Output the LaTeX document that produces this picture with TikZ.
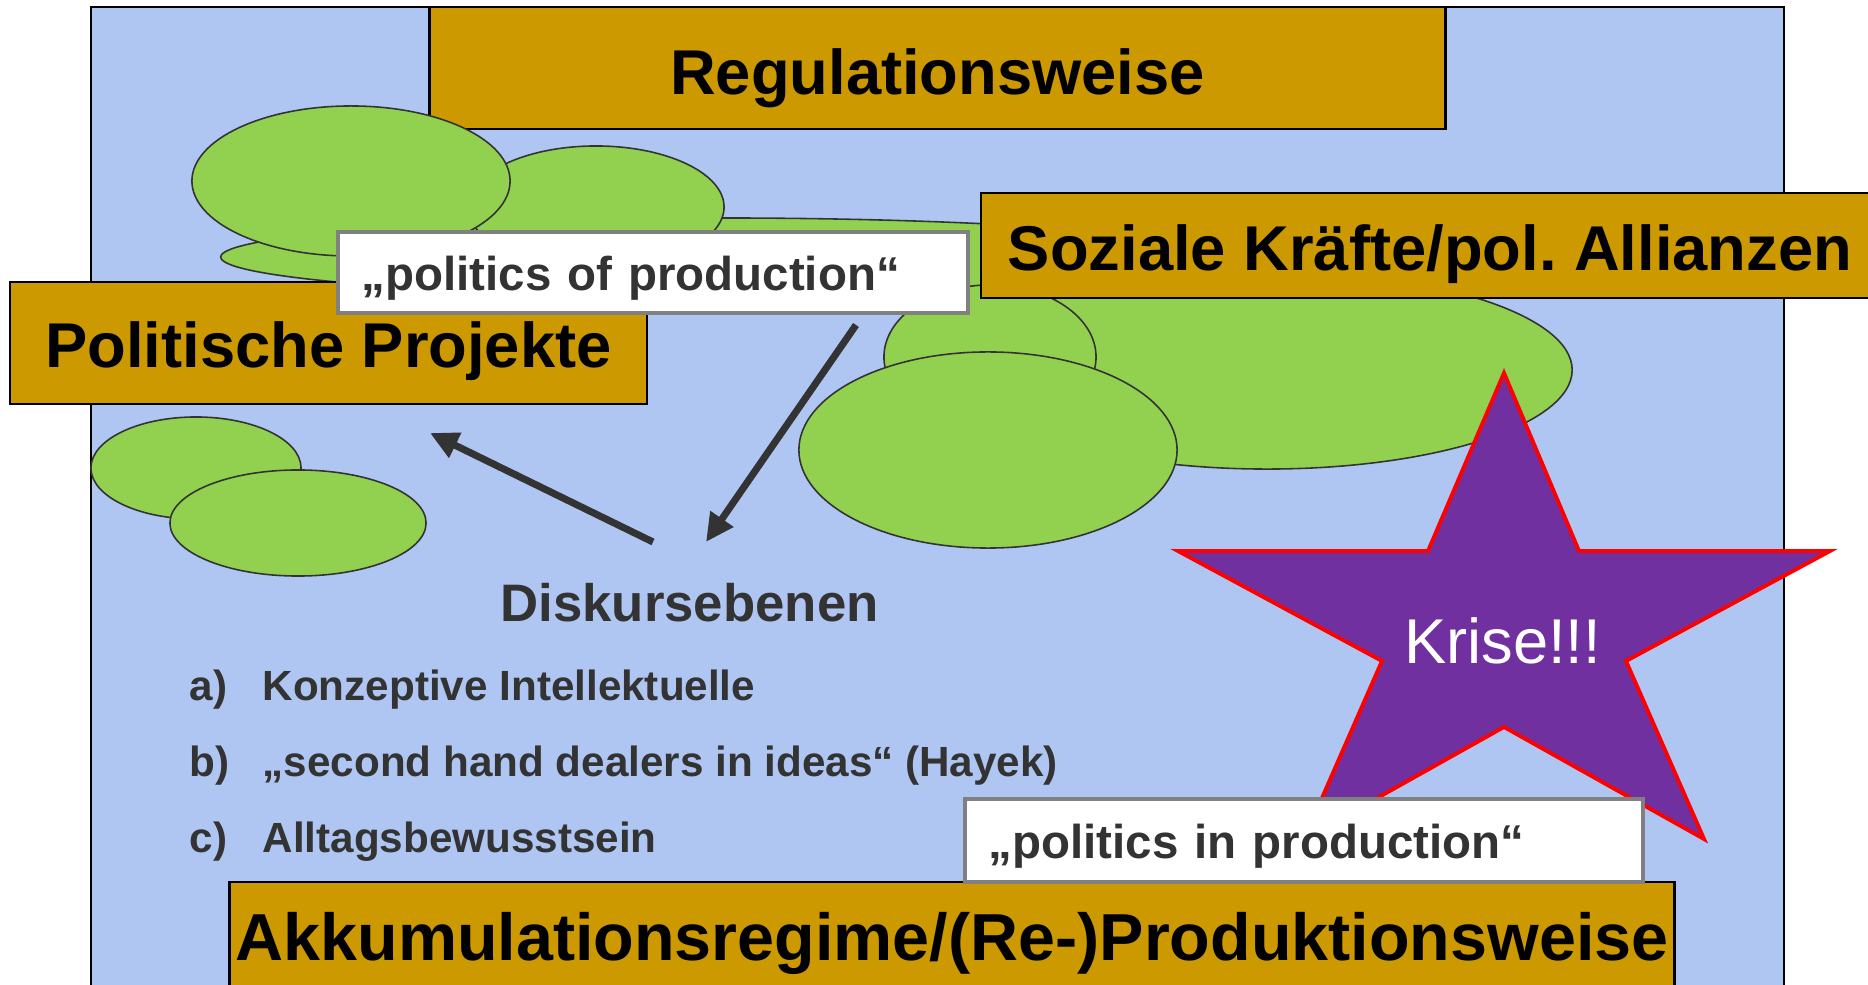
\documentclass[tikz,border=0pt]{standalone}
\usepackage{fontspec}
\setmainfont{Liberation Sans}
\usepackage{xcolor}
\usetikzlibrary{shapes.geometric,arrows.meta}
\frenchspacing

\definecolor{bgblue}{HTML}{AFC6F3}
\definecolor{leaf}{HTML}{92D050}
\definecolor{gold}{HTML}{CC9900}
\definecolor{ink}{HTML}{333333}
\definecolor{krise}{HTML}{7030A0}
\definecolor{rim}{HTML}{808080}

\begin{document}
\begin{tikzpicture}[x=0.01cm,y=-0.01cm]
	\tikzstyle{blob}=[ellipse,draw=ink,fill=leaf,line width=0.45pt,inner sep=0pt]
	\tikzstyle{tier}=[draw=black,fill=gold,line width=0.7pt,font=\fontsize{18pt}{22pt}\selectfont\bfseries,text depth=0pt]
	\tikzstyle{quotebox}=[draw=rim,fill=white,line width=1.3pt,text=ink,font=\fontsize{13.5pt}{16pt}\selectfont\bfseries,align=left,inner xsep=0.24cm,text height=10pt,text depth=0pt]
	\tikzstyle{value}=[text=ink,font=\fontsize{12pt}{14pt}\selectfont\bfseries,anchor=base west,inner sep=0pt]
	\tikzset{edge/.style = {-{Triangle[length=8pt,width=7.5pt]},line width=2pt,draw=ink}}

	\clip (0,0) rectangle (1868,985);
	\draw[fill=bgblue,line width=0.6pt] (91,7) rectangle (1784,1010);

	\node[tier,minimum width=10.15cm,minimum height=1.22cm,text height=14.8pt] (reg) at (937.5,68) {Regulationsweise};

	\node[blob,minimum width=10cm,minimum height=0.78cm] (flat) at (721,257) {};
	\node[blob,minimum width=2.56cm,minimum height=1.22cm] (e2) at (596,207) {};
	\node[blob,minimum width=3.18cm,minimum height=1.5cm] (e1) at (351,181) {};
	\node[blob,minimum width=6.1cm,minimum height=1.98cm] (e6) at (1267,370) {};
	\node[blob,minimum width=2.12cm,minimum height=1.44cm] (e4) at (990,357) {};
	\node[blob,minimum width=3.78cm,minimum height=1.96cm] (e5) at (988,450) {};
	\node[blob,minimum width=2.1cm,minimum height=1.02cm] (ea) at (196,468) {};
	\node[blob,minimum width=2.56cm,minimum height=1.06cm] (eb) at (298,523) {};

	\node[tier,minimum width=8.98cm,minimum height=1.05cm,text height=14pt] (soz) at (1430,245.5) {Soziale Kräfte/pol. Allianzen};
	\node[tier,minimum width=6.37cm,minimum height=1.22cm,text height=13.7pt] (pol) at (328.5,343) {Politische Projekte};
	\node[quotebox,minimum width=6.3cm,minimum height=0.81cm,text width=5.82cm] (pop) at (653,272.5) {„politics of production“};

	\coordinate (from disk) at (653,542);
	\coordinate (to pol) at (430,433);
	\coordinate (from pop) at (856,325);
	\coordinate (to disk) at (706,542);
	\draw[edge] (from disk) -- (to pol);
	\draw[edge] (from pop) -- (to disk);

	\node[text=ink,font=\fontsize{15pt}{18pt}\selectfont\bfseries,anchor=base] (disk) at (689.5,622) {Diskursebenen};
	\node[value] (ia) at (189,701) {\makebox[0.73cm][l]{a)}Konzeptive Intellektuelle};
	\node[value] (ib) at (189,777) {\makebox[0.73cm][l]{b)}„second hand dealers in ideas“ (Hayek)};
	\node[value] (ic) at (189,853) {\makebox[0.73cm][l]{c)}Alltagsbewusstsein};

	% Krise
	\draw[fill=krise,draw=red,line width=1.1pt] (1504,373) -- (1579,551) -- (1830,551) -- (1626,661) -- (1704,839) -- (1504,727) -- (1304,839) -- (1382,661) -- (1178,551) -- (1428,551) -- cycle;
	\node[text=white,font=\fontsize{18pt}{22pt}\selectfont,anchor=base] (krise) at (1502.5,663) {Krise!!!};

	\node[tier,font=\fontsize{18.9pt}{23pt}\selectfont\bfseries,inner xsep=0pt,minimum width=14.44cm,minimum height=1.16cm,text height=11.4pt] (akk) at (952,940) {Akkumulationsregime/(Re-)Produktionsweise};
	\node[quotebox,minimum width=6.78cm,minimum height=0.83cm,text width=6.3cm] (pip) at (1304,840.5) {„politics in production“};
\end{tikzpicture}
\end{document}
